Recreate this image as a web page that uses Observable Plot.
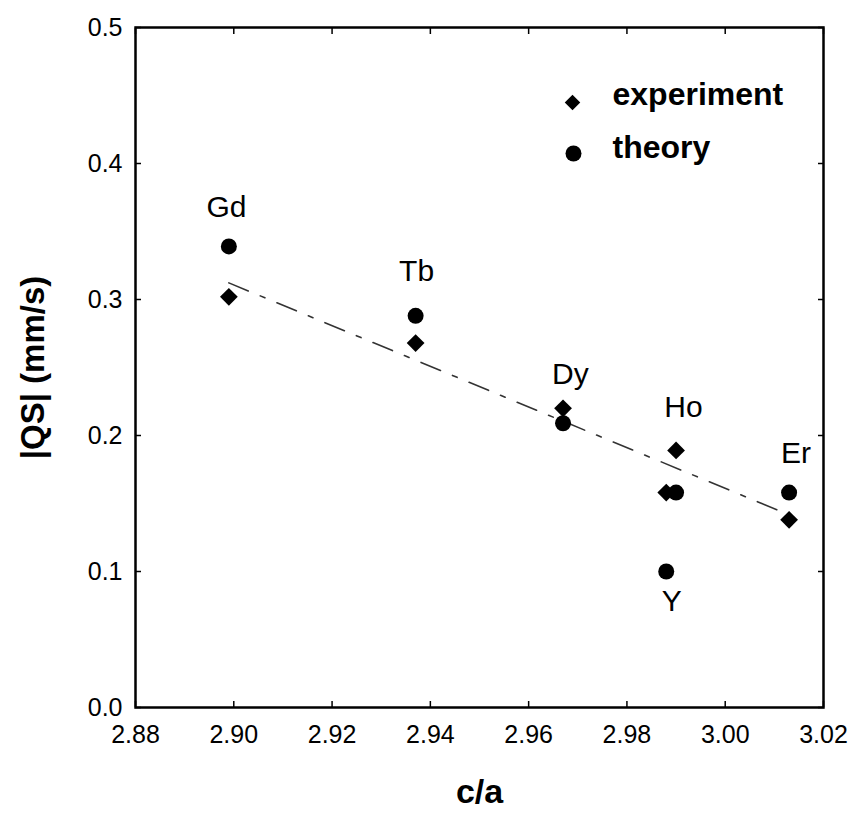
<!DOCTYPE html>
<html>
<head>
<meta charset="utf-8">
<script src="https://cdn.jsdelivr.net/npm/d3@7"></script>
<script src="https://cdn.jsdelivr.net/npm/@observablehq/plot@0.6"></script>
<style>
  html, body { margin: 0; padding: 0; background: #fff; }
  #chart svg { display: block; }
</style>
</head>
<body>
<div id="chart"></div>
<script>
// Elements (rare earths + Y)
const elements = ["Gd", "Tb", "Dy", "Ho", "Y", "Er"];
// c/a ratio for each element
const ca = [2.899, 2.937, 2.967, 2.990, 2.988, 3.013];
// |QS| experiment (mm/s)
const qsExperiment = [0.302, 0.268, 0.220, 0.189, 0.158, 0.138];
// Theory points: c/a and |QS| (mm/s)
const caTheory = [2.899, 2.937, 2.967, 2.990, 2.988, 3.013];
const qsTheory = [0.339, 0.288, 0.209, 0.158, 0.100, 0.158];
// Element label anchor positions (data coordinates)
const labelX = [2.8985, 2.9372, 2.9685, 2.9915, 2.9891, 3.0144];
const labelY = [0.368, 0.321, 0.245, 0.221, 0.078, 0.187];
// Axis ticks
const xTicks = [2.88, 2.90, 2.92, 2.94, 2.96, 2.98, 3.00, 3.02];
const yTicks = [0.0, 0.1, 0.2, 0.3, 0.4, 0.5];
// Legend entries
const legendLabels = ["experiment", "theory"];

const expData = elements.map((e, i) => ({element: e, x: ca[i], y: qsExperiment[i]}));
const thData = elements.map((e, i) => ({element: e, x: caTheory[i], y: qsTheory[i]}));
const labels = elements.map((e, i) => ({element: e, x: labelX[i], y: labelY[i]}));

const font = "Liberation Sans, Arial, Helvetica, sans-serif";

const chart = Plot.plot({
  width: 853,
  height: 813,
  marginLeft: 135,
  marginRight: 30,
  marginTop: 27,
  marginBottom: 106,
  style: {fontFamily: font, background: "#fff", color: "#000"},
  x: {domain: [2.88, 3.02]},
  y: {domain: [0, 0.5]},
  marks: [
    Plot.frame({stroke: "#000", strokeWidth: 2.5}),
    Plot.axisX(xTicks, {anchor: "bottom", tickSize: -6, tickPadding: 24, tickFormat: d3.format(".2f"), fontSize: 25, label: null, stroke: "#000", strokeWidth: 1.5}),
    Plot.axisX(xTicks, {anchor: "top", tickSize: -6, tickFormat: () => "", label: null, strokeWidth: 1.5}),
    Plot.axisY(yTicks, {anchor: "left", tickSize: -6, tickPadding: 19, tickFormat: d3.format(".1f"), fontSize: 25, label: null, strokeWidth: 1.5}),
    Plot.axisY(yTicks, {anchor: "right", tickSize: -6, tickFormat: () => "", label: null, strokeWidth: 1.5}),
    Plot.linearRegressionY(expData, {x: "x", y: "y", ci: 0, stroke: "#333", strokeWidth: 1.6, strokeDasharray: "21,13,5,13"}),
    Plot.dot(thData, {x: "x", y: "y", r: 8, fill: "#000", stroke: "none"}),
    Plot.dot(expData, {x: "x", y: "y", r: 8, symbol: "diamond2", fill: "#000", stroke: "none"}),
    Plot.text(labels, {x: "x", y: "y", text: "element", fontSize: 30, fill: "#000"}),
    // legend
    Plot.dot([legendLabels[0]], {frameAnchor: "top-left", dx: 437, dy: 75, r: 7, symbol: "diamond2", fill: "#000"}),
    Plot.dot([legendLabels[1]], {frameAnchor: "top-left", dx: 438, dy: 126, r: 8, fill: "#000"}),
    Plot.text([legendLabels[0]], {frameAnchor: "top-left", dx: 477, dy: 67, text: d => d, textAnchor: "start", lineAnchor: "middle", fontSize: 32, fontWeight: "bold", fill: "#000"}),
    Plot.text([legendLabels[1]], {frameAnchor: "top-left", dx: 477, dy: 120, text: d => d, textAnchor: "start", lineAnchor: "middle", fontSize: 32, fontWeight: "bold", fill: "#000"}),
    // axis titles
    Plot.text(["c/a"], {frameAnchor: "bottom", dy: 85, text: d => d, textAnchor: "middle", lineAnchor: "middle", fontSize: 34, fontWeight: "bold", fill: "#000"}),
    Plot.text(["|QS| (mm/s)"], {frameAnchor: "left", dx: -102, rotate: -90, text: d => d, textAnchor: "middle", lineAnchor: "middle", fontSize: 33, fontWeight: "bold", fill: "#000"})
  ]
});
document.getElementById("chart").appendChild(chart);
</script>
</body>
</html>
